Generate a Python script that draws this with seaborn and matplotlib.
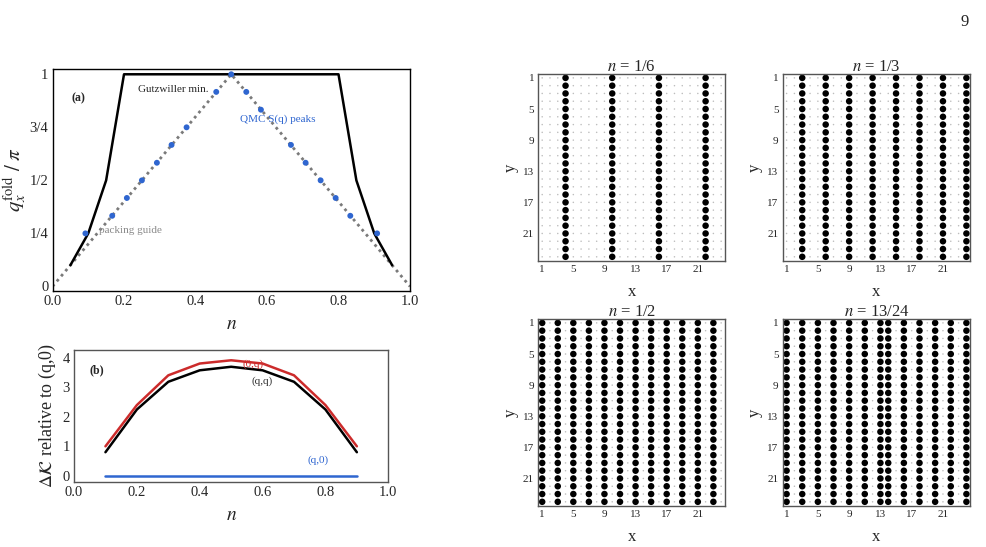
import numpy as np
import pandas as pd
import matplotlib
matplotlib.use('Agg')
import matplotlib.pyplot as plt
import seaborn as sns

sns.set_style('white')
plt.rcParams['font.family'] = ['Liberation Serif', 'DejaVu Serif']
plt.rcParams['mathtext.fontset'] = 'stix'
plt.rcParams['xtick.direction'] = 'in'
plt.rcParams['ytick.direction'] = 'in'

# ---- data ----
# panel (a)
gutz_n = [0.05, 0.10, 0.15, 0.20, 0.80, 0.85, 0.90, 0.95]
gutz_q = [0.10, 0.25, 0.50, 1.00, 1.00, 0.50, 0.25, 0.10]
guide_n = [0.0, 0.5, 1.0]
guide_q = [0.0, 1.0, 0.0]
qmc_n = [0.092, 0.167, 0.208, 0.25, 0.292, 0.333, 0.375, 0.458, 0.5,
         0.542, 0.583, 0.667, 0.708, 0.75, 0.792, 0.833, 0.908]
qmc_q = [0.25, 0.333, 0.417, 0.5, 0.583, 0.667, 0.75, 0.917, 1.0,
         0.917, 0.833, 0.667, 0.583, 0.5, 0.417, 0.333, 0.25]
q_ticks = [0, 0.25, 0.5, 0.75, 1]
q_ticklabels = ['0', '1/4', '1/2', '3/4', '1']

# panel (b)
fill_n = [0.1, 0.2, 0.3, 0.4, 0.5, 0.6, 0.7, 0.8, 0.9]
dk_0q = [1.0, 2.4, 3.41, 3.81, 3.92, 3.81, 3.41, 2.4, 1.0]
dk_qq = [0.8, 2.25, 3.19, 3.58, 3.7, 3.58, 3.19, 2.25, 0.8]
dk_q0 = [0, 0, 0, 0, 0, 0, 0, 0, 0]

# density maps, 24 x 24 lattice: occupied stripe columns
L = 24
titles = ['$n$ = 1/6', '$n$ = 1/3', '$n$ = 1/2', '$n$ = 13/24']
stripe_cols = [
    [4, 10, 16, 22],
    [3, 6, 9, 12, 15, 18, 21, 24],
    [1, 3, 5, 7, 9, 11, 13, 15, 17, 19, 21, 23],
    [1, 3, 5, 7, 9, 11, 13, 14, 16, 18, 20, 22, 24],
]
lat_ticks = [1, 5, 9, 13, 17, 21]

fig = plt.figure(figsize=(9.87, 5.47), dpi=100)
fig.text(0.982, 0.975, '9', fontsize=12, ha='right', va='top')

blue = '#2f66d0'
red = '#cc2b2b'

# ---- (a) ----
axa = fig.add_axes([0.0532, 0.4686, 0.3622, 0.4053])
sns.lineplot(x=guide_n, y=guide_q, ax=axa, color='#7a7a7a', lw=2,
             linestyle=(0, (1.0, 1.4)), sort=False)
sns.lineplot(x=gutz_n, y=gutz_q, ax=axa, color='black', lw=1.8, sort=False)
sns.scatterplot(x=qmc_n, y=qmc_q, ax=axa, color=blue, s=18, edgecolor='none', zorder=5)
axa.set_xlim(0, 1)
axa.set_ylim(-0.02, 1.025)
axa.set_xticks([0, 0.2, 0.4, 0.6, 0.8, 1.0])
axa.set_xticklabels(['0.0', '0.2', '0.4', '0.6', '0.8', '1.0'])
axa.set_yticks(q_ticks)
axa.set_yticklabels(q_ticklabels)
axa.tick_params(labelsize=10.5, length=3, width=0.8, pad=3)
axa.set_xlabel('$n$', fontsize=14, labelpad=6)
axa.set_ylabel(r'$q_x^{\mathrm{fold}}\ /\ \pi$', fontsize=15, labelpad=1)
for sp in axa.spines.values():
    sp.set_color('black')
    sp.set_linewidth(1.0)
axa.text(0.053, 0.886, '(a)', fontsize=8.5, fontweight='bold', va='center')
axa.text(0.24, 0.93, 'Gutzwiller min.', fontsize=8, va='center')
axa.text(0.525, 0.79, 'QMC S(q) peaks', fontsize=8, va='center', color=blue)
axa.text(0.131, 0.266, 'packing guide', fontsize=8, va='center', color='#8a8a8a')

# ---- (b) ----
axb = fig.add_axes([0.075, 0.1194, 0.3184, 0.2408])
sns.lineplot(x=fill_n, y=dk_q0, ax=axb, color=blue, lw=1.8)
sns.lineplot(x=fill_n, y=dk_qq, ax=axb, color='black', lw=1.8)
sns.lineplot(x=fill_n, y=dk_0q, ax=axb, color=red, lw=1.8)
axb.set_xlim(0, 1)
axb.set_ylim(-0.2, 4.27)
axb.set_xticks([0, 0.2, 0.4, 0.6, 0.8, 1.0])
axb.set_xticklabels(['0.0', '0.2', '0.4', '0.6', '0.8', '1.0'])
axb.set_yticks([0, 1, 2, 3, 4])
axb.tick_params(labelsize=10.5, length=3, width=0.8, pad=3)
axb.set_xlabel('$n$', fontsize=14, labelpad=6)
axb.set_ylabel(r'$\Delta\mathcal{K}$ relative to (q,0)', fontsize=13, labelpad=3)
for sp in axb.spines.values():
    sp.set_color('#555555')
    sp.set_linewidth(1.0)
axb.text(0.05, 3.58, '(b)', fontsize=8.5, fontweight='bold', va='center')
axb.text(0.537, 3.8, '(0,q)', fontsize=8, va='center', color=red)
axb.text(0.566, 3.2, '(q,q)', fontsize=8, va='center', color='#333333')
axb.text(0.743, 0.54, '(q,0)', fontsize=8, va='center', color=blue)

# ---- density maps ----
boxes = [
    [0.5454, 0.5234, 0.1892, 0.3413],
    [0.7930, 0.5234, 0.1901, 0.3413],
    [0.5454, 0.0755, 0.1892, 0.3413],
    [0.7930, 0.0755, 0.1901, 0.3413],
]
xs, ys = np.meshgrid(np.arange(1, L + 1), np.arange(1, L + 1))
for box, title, cols in zip(boxes, titles, stripe_cols):
    ax = fig.add_axes(box)
    df = pd.DataFrame({'x': xs.ravel(), 'y': ys.ravel()})
    df['occ'] = np.isin(df['x'], cols)
    sns.scatterplot(data=df[~df['occ']], x='x', y='y', ax=ax, color='#bdbdbd',
                    s=1.2, edgecolor='none')
    sns.scatterplot(data=df[df['occ']], x='x', y='y', ax=ax, color='black',
                    s=22, edgecolor='none')
    ax.set_xlim(0.5, 24.5)
    ax.set_ylim(24.5, 0.5)
    ax.set_xticks(lat_ticks)
    ax.set_yticks(lat_ticks)
    ax.tick_params(labelsize=8, length=2.5, width=0.7, pad=3)
    ax.set_title(title, fontsize=12, pad=2)
    ax.set_xlabel('x', fontsize=12, labelpad=7)
    ax.set_ylabel('y', fontsize=12, labelpad=3)
    for sp in ax.spines.values():
        sp.set_color('#555555')
        sp.set_linewidth(1.0)

fig.savefig('out.png', dpi=100)
